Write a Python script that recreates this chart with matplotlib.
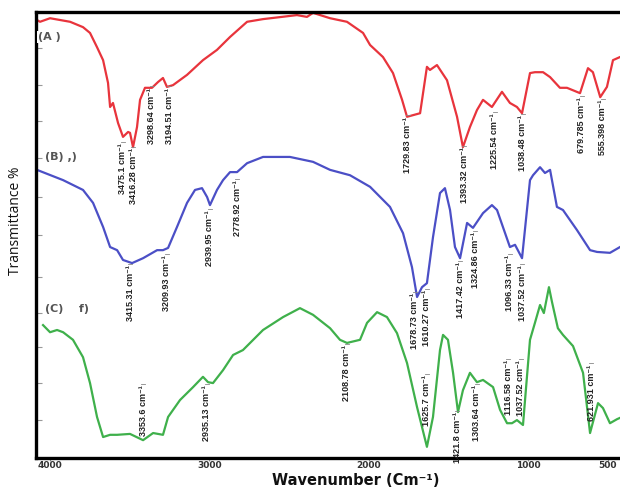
import matplotlib
matplotlib.use("Agg")
import matplotlib.pyplot as plt

# ---- data (wavenumber cm^-1, transmittance, arbitrary offset units) ----
wn_a = [4082, 4063, 4000, 3874, 3793, 3749, 3705, 3667, 3636, 3623, 3605, 3573, 3542, 3510, 3498,
        3479, 3454, 3435, 3404, 3360, 3322, 3291, 3266, 3228, 3140, 3040, 2952, 2870, 2763, 2663,
        2450, 2387, 2349, 2242, 2136, 2035, 1991, 1910, 1847, 1790, 1759, 1677, 1634, 1615, 1571,
        1508, 1445, 1408, 1364, 1320, 1282, 1226, 1163, 1113, 1069, 1037, 987, 956, 905, 861,
        799, 755, 673, 623, 592, 546, 504, 466, 422]
t_a = [98.2, 97.8, 98.6, 97.8, 96.6, 95.3, 92.1, 89.2, 84.1, 78.7, 79.6, 75.1, 72.0, 73.1, 72.9,
       69.7, 74.2, 80.3, 83.0, 83.0, 84.3, 85.2, 83.2, 83.6, 85.9, 89.2, 91.5, 94.4, 97.8, 98.4,
       99.3, 98.9, 99.8, 98.6, 97.8, 95.3, 92.6, 89.9, 86.3, 80.3, 76.5, 77.3, 87.7, 87.0, 88.1,
       84.7, 76.5, 69.7, 74.2, 78.0, 80.3, 78.7, 82.1, 79.6, 78.7, 77.3, 86.3, 86.5, 86.5, 85.4,
       83.0, 83.0, 81.8, 87.4, 86.5, 80.9, 83.2, 89.2, 89.9]

wn_b = [4082, 3918, 3793, 3730, 3667, 3623, 3579, 3542, 3485, 3416, 3328, 3291, 3259, 3203, 3140,
        3090, 3046, 3014, 2996, 2952, 2914, 2870, 2826, 2763, 2663, 2494, 2349, 2242, 2117, 1991,
        1866, 1784, 1728, 1696, 1665, 1634, 1596, 1552, 1521, 1489, 1458, 1426, 1382, 1345, 1282,
        1226, 1194, 1157, 1113, 1081, 1037, 987, 968, 924, 893, 861, 818, 780, 692, 610,
        566, 485, 422]
t_b = [64.6, 62.3, 60.1, 57.2, 51.8, 47.3, 46.6, 44.4, 43.7, 44.8, 46.6, 46.6, 47.1, 51.8, 57.2,
       60.1, 60.5, 58.5, 56.7, 60.1, 62.3, 64.1, 64.1, 66.1, 67.5, 67.5, 66.4, 64.6, 63.4, 60.8,
       56.3, 50.4, 42.8, 36.1, 38.3, 39.2, 49.5, 59.4, 60.5, 55.6, 47.3, 44.8, 52.7, 51.6, 54.9,
       56.7, 55.6, 51.8, 47.3, 47.8, 44.8, 62.3, 63.4, 65.2, 63.9, 64.6, 56.3, 55.6, 51.1, 46.6,
       46.2, 46.0, 47.3]

wn_c = [4044, 4000, 3956, 3918, 3856, 3793, 3749, 3705, 3667, 3623, 3579, 3498, 3416, 3353, 3291,
        3259, 3184, 3102, 3040, 3008, 2977, 2914, 2851, 2789, 2663, 2537, 2431, 2349, 2242, 2180,
        2136, 2054, 2010, 1947, 1885, 1822, 1759, 1696, 1634, 1596, 1552, 1533, 1502, 1470, 1439,
        1408, 1364, 1320, 1282, 1219, 1175, 1131, 1100, 1069, 1031, 987, 956, 924, 900, 868,
        849, 812, 780, 717, 654, 610, 560, 529, 485, 441, 422]
t_c = [29.8, 28.2, 28.7, 28.2, 26.5, 22.6, 16.8, 9.2, 4.7, 5.2, 5.2, 5.4, 4.0, 5.6, 5.2,
       9.2, 13.0, 15.9, 18.2, 17.0, 16.8, 19.7, 23.1, 24.2, 28.7, 31.6, 33.6, 32.1, 29.1, 26.5,
       25.8, 26.5, 30.3, 32.7, 31.6, 28.0, 21.3, 11.4, 2.5, 9.2, 24.2, 27.6, 26.5, 19.1, 10.3,
       15.2, 19.1, 17.0, 17.5, 15.9, 10.8, 7.8, 7.8, 8.5, 7.4, 26.5, 30.3, 34.3, 32.5, 38.3,
       35.0, 29.1, 27.6, 25.1, 19.1, 5.6, 12.3, 11.2, 7.8, 8.7, 9.0]

# peak annotations: (text, wavenumber position, top of text)
labels_a = [("3475.1", 3542, 70.6), ("3416.28", 3479, 69.5), ("3298.64", 3360, 83.0),
            ("3194.51", 3253, 83.0), ("1729.83", 1753, 76.5), ("1393.32", 1401, 69.7),
            ("1225.54", 1207, 77.3), ("1038.48", 1031, 76.9), ("679.785", 661, 80.9),
            ("555.398", 529, 80.3)]
labels_b = [("3415.31", 3498, 43.3), ("3209.93", 3266, 45.5), ("2939.95", 2996, 55.6),
            ("2778.92", 2826, 62.3), ("1678.73", 1709, 37.0), ("1610.27", 1634, 37.7),
            ("1417.42", 1426, 43.9), ("1324.86", 1332, 50.7), ("1096.33", 1113, 45.5),
            ("1037.52", 1037, 43.3)]
labels_c = [("3353.6", 3416, 16.4), ("2935.13", 3015, 16.4), ("2108.78", 2136, 25.3),
            ("1625.7", 1634, 18.6), ("1421.8", 1445, 10.3), ("1303.64", 1320, 16.4),
            ("1116.58", 1125, 22.0), ("1037.52", 1044, 22.0), ("621.931", 604, 20.9)]

panel_names = ["(A )", "(B) ,)", "(C)    f)"]
panel_pos = [(4075, 94.4), (4031, 67.5), (4031, 33.5)]

xticks = [4000, 3000, 2000, 1000, 500]
xticklabels = ["4000", "3000", "2000", "1000", "500"]

# ---- figure ----
fig = plt.figure(figsize=(6.2, 4.91), dpi=100)
ax = fig.add_axes([0.0581, 0.0672, 0.9419, 0.9084])

ax.plot(wn_a, t_a, color="#e8343c", lw=1.6)
ax.plot(wn_b, t_b, color="#4b4fc6", lw=1.6)
ax.plot(wn_c, t_c, color="#3fb04b", lw=1.6)

ax.set_xlim(4088, 422)
ax.set_ylim(0, 100)

lab_font = dict(family=["Liberation Sans", "DejaVu Sans"], fontsize=6.5,
                fontweight="bold", color="#222222")
for group in (labels_a, labels_b, labels_c):
    for txt, x, y in group:
        ax.text(x, y, txt + " cm\u207b\u00b9", rotation=90, ha="center", va="top", **lab_font)
        ax.plot([x - 12, x + 12], [y + 0.3, y + 0.3], color="#888888", lw=0.6)

for name, (x, y) in zip(panel_names, panel_pos):
    ax.text(x, y, name, ha="left", va="center", fontsize=8, fontweight="bold",
            color="#555555", family=["DejaVu Sans"],
            bbox=dict(facecolor="white", edgecolor="none", pad=0.5))

ax.set_xticks(xticks)
ax.set_xticklabels(xticklabels, fontsize=6.5, fontweight="bold", color="#333333")
ax.set_yticks([8.5, 16.8, 24.9, 32.5, 40.6, 50.0, 58.5, 67.3, 75.6, 83.6, 91.9])
ax.set_yticklabels([])
ax.tick_params(axis="y", direction="in", length=4, color="#999999", width=0.8)
ax.tick_params(axis="x", direction="out", length=2, color="#999999", width=0.8, pad=0.5)

for side in ("left", "bottom", "top"):
    ax.spines[side].set_linewidth(2.4)
    ax.spines[side].set_color("black")
ax.spines["right"].set_visible(False)

fig.text(0.025, 0.55, "Transmittance %", rotation=90, ha="center", va="center",
         fontsize=10, color="#111111", family=["Open Sans", "DejaVu Sans"])
fig.text(0.573, 0.022, "Wavenumber (Cm\u207b\u00b9)", ha="center", va="center",
         fontsize=10.5, fontweight="bold", color="#111111")

fig.savefig("out.png", dpi=100)
